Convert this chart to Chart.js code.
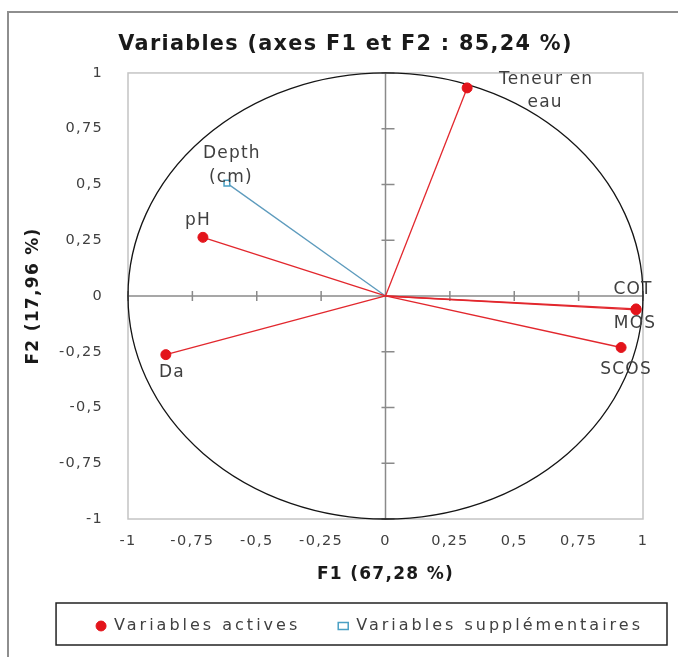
<!DOCTYPE html>
<html>
<head>
<meta charset="utf-8">
<script src="https://cdn.jsdelivr.net/npm/chart.js@4/dist/chart.umd.min.js"></script>
<style>
  html, body { margin: 0; padding: 0; background: #ffffff; }
  #wrap { position: relative; width: 678px; height: 657px; }
  #frame { position: absolute; left: 7px; top: 11px; width: 680px; height: 660px; border: 2px solid #8e8e8e; box-sizing: border-box; pointer-events: none; }
</style>
</head>
<body>
<div id="wrap">
  <canvas id="c" width="678" height="657"></canvas>
  <div id="frame"></div>
</div>
<script>
// ---- data ----
const activeNames = ['Teneur en eau', 'pH', 'Da', 'COT', 'MOS', 'SCOS'];
const activeF1 = [0.317, -0.709, -0.853, 0.973, 0.973, 0.915];
const activeF2 = [0.933, 0.263, -0.263, -0.058, -0.062, -0.231];
const suppNames = ['Depth (cm)'];
const suppF1 = [-0.616];
const suppF2 = [0.506];
const tickValues = [-1, -0.75, -0.5, -0.25, 0, 0.25, 0.5, 0.75, 1];
const chartTitle = 'Variables (axes F1 et F2 : 85,24 %)';
const xTitle = 'F1 (67,28 %)';
const yTitle = 'F2 (17,96 %)';
const legendNames = ['Variables actives', 'Variables supplémentaires'];

// ---- label styling (line breaks and offsets from the point, px) ----
const labelStyle = {
  'Teneur en eau': { lines: ['Teneur en', 'eau'], dx: [79, 78], dy: [-8, 15] },
  'pH': { lines: ['pH'], dx: [-5], dy: [-17] },
  'Da': { lines: ['Da'], dx: [6], dy: [18] },
  'COT': { lines: ['COT'], dx: [-3], dy: [-19] },
  'MOS': { lines: ['MOS'], dx: [-1], dy: [14] },
  'SCOS': { lines: ['SCOS'], dx: [5], dy: [22] },
  'Depth (cm)': { lines: ['Depth', '(cm)'], dx: [5, 4], dy: [-30, -6] }
};

const RED = '#e3141b';
const LINE_RED = '#e2272d';
const BLUE_LINE = '#5d9bbd';
const BLUE_MARK = '#4aa0c4';
const TXT = '#404040';
const FONT = 'DejaVu Sans';
const BASE_SPACING = '1.3px';
const LEGEND_SPACING = '3px';
const TITLE_SHIFT = 20;
const LEGEND_SHIFT = 38;

const fmt = v => String(v).replace('.', ',');

const activePoints = activeF1.map((x, i) => ({ x, y: activeF2[i] }));
const suppPoints = suppF1.map((x, i) => ({ x, y: suppF2[i] }));

const datasets = [
  {
    label: legendNames[0], data: activePoints, order: 0,
    pointStyle: 'circle', pointRadius: 5, pointHoverRadius: 5,
    backgroundColor: RED, borderColor: RED, borderWidth: 1, showLine: false, names: activeNames
  },
  {
    label: legendNames[1], data: suppPoints, order: 0,
    pointStyle: 'rect', pointRadius: 4, pointHoverRadius: 4,
    backgroundColor: '#ffffff', borderColor: BLUE_MARK, borderWidth: 1.5, showLine: false, names: suppNames
  }
];
activePoints.forEach(p => datasets.push({
  label: '_line', data: [{ x: 0, y: 0 }, p], order: 1, showLine: true,
  borderColor: LINE_RED, borderWidth: 1.3, pointRadius: 0, pointHoverRadius: 0, fill: false
}));
suppPoints.forEach(p => datasets.push({
  label: '_line', data: [{ x: 0, y: 0 }, p], order: 1, showLine: true,
  borderColor: BLUE_LINE, borderWidth: 1.3, pointRadius: 0, pointHoverRadius: 0, fill: false
}));

function wrapBox(box, spacing, shift) {
  if (!box || box._wrapped) return;
  box._wrapped = true;
  ['fit', 'update', 'buildLabels'].forEach(name => {
    if (typeof box[name] !== 'function') return;
    const orig = box[name].bind(box);
    box[name] = function (...args) {
      const ctx = this.ctx, old = ctx.letterSpacing;
      ctx.letterSpacing = spacing;
      const r = orig(...args);
      ctx.letterSpacing = old;
      return r;
    };
  });
  if (typeof box.draw === 'function') {
    const draw = box.draw.bind(box);
    box.draw = function (...args) {
      const ctx = this.ctx; ctx.save();
      ctx.letterSpacing = spacing; ctx.translate(shift, 0);
      draw(...args); ctx.restore();
    };
  }
}

const spacing = {
  id: 'spacing',
  beforeUpdate(chart) {
    chart.ctx.letterSpacing = BASE_SPACING;
    wrapBox(chart.legend, LEGEND_SPACING, LEGEND_SHIFT);
    wrapBox(chart.titleBlock, BASE_SPACING, TITLE_SHIFT);
  },
  beforeLayout(chart) { chart.ctx.letterSpacing = BASE_SPACING; },
  beforeDraw(chart) { chart.ctx.letterSpacing = BASE_SPACING; }
};

const decor = {
  id: 'decor',
  beforeDatasetsDraw(chart) {
    const { ctx, chartArea: a, scales: { x, y } } = chart;
    ctx.save();
    ctx.strokeStyle = '#c4c4c4'; ctx.lineWidth = 1.5;
    ctx.strokeRect(a.left, a.top, a.right - a.left, a.bottom - a.top);
    const x0 = x.getPixelForValue(0), y0 = y.getPixelForValue(0);
    ctx.strokeStyle = '#8a8a8a'; ctx.lineWidth = 1.5;
    ctx.beginPath();
    ctx.moveTo(a.left, y0); ctx.lineTo(a.right, y0);
    ctx.moveTo(x0, a.top); ctx.lineTo(x0, a.bottom);
    tickValues.forEach(v => {
      const px = x.getPixelForValue(v), py = y.getPixelForValue(v);
      ctx.moveTo(px, y0 - 5); ctx.lineTo(px, y0 + 5);
      ctx.moveTo(x0 - 4, py); ctx.lineTo(x0 + 9, py);
    });
    ctx.stroke();
    const rx = x.getPixelForValue(1) - x0, ry = y0 - y.getPixelForValue(1);
    ctx.strokeStyle = '#151515'; ctx.lineWidth = 1.3;
    ctx.beginPath(); ctx.ellipse(x0, y0, rx, ry, 0, 0, Math.PI * 2); ctx.stroke();
    ctx.restore();
  },
  afterDatasetsDraw(chart) {
    const { ctx } = chart;
    ctx.save();
    ctx.letterSpacing = '1.2px';
    ctx.font = '17px "' + FONT + '"';
    ctx.fillStyle = TXT; ctx.textAlign = 'center'; ctx.textBaseline = 'middle';
    [0, 1].forEach(di => {
      const meta = chart.getDatasetMeta(di);
      const names = chart.data.datasets[di].names;
      meta.data.forEach((el, j) => {
        const st = labelStyle[names[j]];
        st.lines.forEach((t, k) => ctx.fillText(t, el.x + st.dx[k], el.y + st.dy[k]));
      });
    });
    ctx.restore();
  },
  afterDraw(chart) {
    const lg = chart.legend;
    if (!lg || !lg.legendHitBoxes || !lg.legendHitBoxes.length) return;
    const hb = lg.legendHitBoxes;
    const l = Math.min(...hb.map(h => h.left)) - 40 + LEGEND_SHIFT;
    const r = Math.max(...hb.map(h => h.left + h.width)) + 24 + LEGEND_SHIFT;
    const t = Math.min(...hb.map(h => h.top)) - 15;
    const b = Math.max(...hb.map(h => h.top + h.height)) + 11;
    const ctx = chart.ctx;
    ctx.save(); ctx.strokeStyle = '#222222'; ctx.lineWidth = 1.5;
    ctx.strokeRect(l, t, r - l, b - t); ctx.restore();
  }
};

const axisCommon = (title) => ({
  type: 'linear', min: -1, max: 1,
  grid: { display: false }, border: { display: false },
  ticks: {
    stepSize: 0.25, color: TXT, font: { family: FONT, size: 14.5 },
    callback: v => fmt(v)
  },
  title: { display: true, text: title, color: '#1a1a1a', font: { family: FONT, size: 17, weight: 'bold' } }
});

const xAxis = axisCommon(xTitle);
xAxis.ticks.padding = 6;
xAxis.title.padding = { top: 0, bottom: -5 };
xAxis.afterFit = s => { s.height = 61; };
const yAxis = axisCommon(yTitle);
yAxis.ticks.padding = 17;
yAxis.title.padding = { top: 15, bottom: 4 };
yAxis.afterFit = s => { s.width = 120; };

new Chart(document.getElementById('c'), {
  type: 'scatter',
  data: { datasets },
  options: {
    responsive: false, animation: false, events: [],
    layout: { padding: { left: 8, right: 35, top: 32, bottom: 13 } },
    scales: { x: xAxis, y: yAxis },
    plugins: {
      title: { display: true, text: chartTitle, color: '#1a1a1a', font: { family: FONT, size: 20.8, weight: 'bold' }, padding: { top: 0, bottom: 16 } },
      legend: {
        position: 'bottom', align: 'end',
        labels: {
          usePointStyle: true, pointStyleWidth: 10, boxHeight: 7, color: TXT, padding: 38,
          font: { family: FONT, size: 16 },
          filter: item => item.text !== '_line'
        }
      },
      tooltip: { enabled: false }
    }
  },
  plugins: [spacing, decor]
});
</script>
</body>
</html>
